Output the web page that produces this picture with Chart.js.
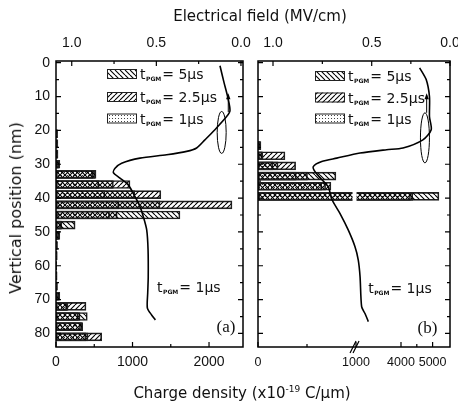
<!DOCTYPE html>
<html>
<head>
<meta charset="utf-8">
<script src="https://cdn.jsdelivr.net/npm/chart.js@4/dist/chart.umd.min.js"></script>
<style>
  html, body { margin: 0; padding: 0; background: #fff; overflow: hidden; }
  #figure { position: relative; width: 458px; height: 406px; font-family: 'DejaVu Sans', sans-serif; color: #111; }
  #figure canvas { position: absolute; left: 0; top: 0; }
  .axis-title { position: absolute; white-space: nowrap; font-size: 15px; line-height: 1; transform: translate(-50%, -50%); }
  .axis-title sup { font-size: 9px; vertical-align: 6px; line-height: 0; }
</style>
</head>
<body>
<div id="figure">
  <canvas id="panelA" width="458" height="406"></canvas>
  <canvas id="panelB" width="458" height="406"></canvas>
  <div class="axis-title" style="left:260px; top:16px;">Electrical field (MV/cm)</div>
  <div class="axis-title" style="left:242px; top:393px;">Charge density (x10<sup>-19</sup> C/μm)</div>
  <div class="axis-title" style="left:16px; top:208px; font-size:16px; transform: translate(-50%, -50%) rotate(-90deg);">Vertical position (nm)</div>
</div>

<script>
// ---- data ----
const pulseLabels = ['5μs', '2.5μs', '1μs'];

// panel (a): histogram bins (nm) and charge density per t_PGM
const binsA = [21, 24, 27, 30, 33, 36, 39, 42, 45, 48, 51, 54, 57, 60, 63, 66, 69, 72, 75, 78, 81];
const charge5usA = [20, 25, 25, 50, 523, 750, 1030, 1360, 1620, 250, 50, 20, 15, 10, 15, 20, 50, 157, 409, 349, 418];
const charge25usA = [20, 20, 25, 40, 505, 967, 1370, 2300, 800, 75, 40, 15, 15, 10, 10, 15, 40, 392, 314, 340, 597];
const charge1usA = [15, 20, 20, 30, 480, 560, 640, 820, 700, 60, 30, 15, 10, 10, 10, 10, 30, 140, 290, 320, 390];

// panel (b)
const binsB = [24.5, 27.5, 30.5, 33.5, 36.5, 39.5];
const charge5usB = [30, 50, 205, 795, 690, 5200];
const charge25usB = [25, 275, 384, 505, 744, 4370];
const charge1usB = [20, 40, 150, 390, 650, 4300];

// electrical field profile, t_PGM = 1us
const fieldDepthA = [0.9, 5.9, 10.4, 14.2, 16.0, 19.8, 22.8, 25.2, 26.2, 27.2, 28.2, 29.7, 31.2, 32.5, 34.1, 36.1, 39.6, 42.5, 45.5, 49.4, 55.3, 63.3, 68.0, 72.5, 74.6, 76.0];
const fieldA = [0.124, 0.100, 0.077, 0.065, 0.086, 0.154, 0.213, 0.262, 0.321, 0.439, 0.597, 0.705, 0.744, 0.754, 0.715, 0.666, 0.626, 0.597, 0.577, 0.557, 0.549, 0.548, 0.551, 0.553, 0.527, 0.506];
const fieldDepthB = [1.5, 5.0, 10.1, 16.0, 19.8, 22.8, 25.2, 25.7, 26.7, 28.2, 29.2, 30.7, 32.2, 34.6, 36.7, 40.5, 44.5, 49.4, 54.3, 58.3, 63.2, 72.1, 74.1, 76.5];
const fieldB = [0.194, 0.152, 0.131, 0.131, 0.120, 0.173, 0.300, 0.405, 0.559, 0.677, 0.753, 0.796, 0.787, 0.752, 0.720, 0.701, 0.661, 0.619, 0.585, 0.568, 0.559, 0.551, 0.534, 0.517];

// ticks
const depthTicks = [0, 10, 20, 30, 40, 50, 60, 70, 80];
const depthMinor = [5, 15, 25, 35, 45, 55, 65, 75];
const chargeTicksA = [0, 1000, 2000];
const chargeMinorA = [500, 1500];
const chargeTicksB = [0, 1000, 4000, 5000];
const chargeMinorB = [500, 4500];
const fieldTicks = [1.0, 0.5, 0.0];
const fieldMinor = [0.75, 0.25];

// axis calibration: value -> fraction of the axis length (panel b is broken / uneven)
const AXIS_KNOTS = {
  chargeA: { values: [0, 2444], fractions: [0, 1] },
  fieldA: { values: [1.093, -0.012], fractions: [0, 1] },
  chargeB: { values: [0, 1000, 2640, 5550], fractions: [0, 98 / 192, 100 / 192, 1] },
  fieldB: { values: [1.076, 1.0, 0.5, 0.0], fractions: [0, 15 / 192, 113.7 / 192, 1] }
};

function interp(xs, ys, x) {
  const last = xs.length - 2;
  for (let i = 0; i <= last; i++) {
    const a = xs[i], b = xs[i + 1];
    if (a === b) continue;
    const t = (x - a) / (b - a);
    if ((t >= 0 && t <= 1) || (i === 0 && t < 0) || (i === last && t > 1)) {
      return ys[i] + t * (ys[i + 1] - ys[i]);
    }
  }
  return ys[ys.length - 1];
}

class KnotScale extends Chart.LinearScale {
  static id = 'knots';
  getPixelForValue(value) {
    if (value === null || value === undefined || isNaN(value)) return NaN;
    const k = AXIS_KNOTS[this.options.knotSet];
    return this.getPixelForDecimal(interp(k.values, k.fractions, value));
  }
  getValueForPixel(pixel) {
    const k = AXIS_KNOTS[this.options.knotSet];
    return interp(k.fractions, k.values, this.getDecimalForPixel(pixel));
  }
}
Chart.register(KnotScale);

Chart.defaults.font.family = "'Liberation Sans', Arial, sans-serif";
Chart.defaults.color = '#111';

function makePattern(ctx, kind) {
  const s = kind === 'dots' ? 3 : 5;
  const tile = document.createElement('canvas');
  tile.width = s;
  tile.height = s;
  const t = tile.getContext('2d');
  if (kind === 'dots') {
    t.fillStyle = '#444';
    t.fillRect(1, 1, 1, 1);
  } else {
    t.strokeStyle = '#000';
    t.lineWidth = 1.1;
    t.beginPath();
    for (let k = -s; k <= s; k += s) {
      if (kind === 'back') { t.moveTo(k, 0); t.lineTo(k + s, s); }
      else { t.moveTo(k, s); t.lineTo(k + s, 0); }
    }
    t.stroke();
  }
  return ctx.createPattern(tile, 'repeat');
}

function drawPulseLabel(ctx, x, base, value) {
  ctx.textAlign = 'left';
  ctx.textBaseline = 'alphabetic';
  ctx.font = "14px 'DejaVu Sans'";
  ctx.fillText('t', x, base);
  x += ctx.measureText('t').width + 0.5;
  ctx.font = "bold 6px 'DejaVu Sans'";
  ctx.fillText('PGM', x, base + 2);
  x += ctx.measureText('PGM').width + 1;
  ctx.font = "14px 'DejaVu Sans'";
  ctx.fillText('= ' + value, x, base);
}

function decorPlugin(p, patterns) {
  return {
    id: 'decor',
    beforeDatasetDraw(chart, args) {
      // white gap in the bars at the axis break
      if (args.meta.type !== 'line' || p.breakAt === undefined) return;
      const { ctx, scales } = chart;
      const bx = scales.xCharge.getPixelForValue(p.breakAt);
      ctx.save();
      ctx.fillStyle = '#fff';
      p.bins.forEach((b, i) => {
        if (Math.max(p.charges[0][i], p.charges[1][i], p.charges[2][i]) <= p.breakAt) return;
        const py = scales.y.getPixelForValue(b);
        ctx.fillRect(bx - 2, py - 5, 4, 10);
      });
      ctx.restore();
    },
    afterDraw(chart) {
      const { ctx, chartArea: a, scales } = chart;
      const y = scales.y, xc = scales.xCharge, xf = scales.xField;
      const mark = (x1, y1, x2, y2) => { ctx.moveTo(x1, y1); ctx.lineTo(x2, y2); };
      ctx.save();
      ctx.strokeStyle = '#000';
      ctx.fillStyle = '#111';

      // frame + inward ticks
      ctx.lineWidth = 1.5;
      ctx.strokeRect(a.left, a.top, a.right - a.left, a.bottom - a.top);
      ctx.lineWidth = 1.2;
      ctx.beginPath();
      [[depthTicks, 5], [depthMinor, 3]].forEach(([vals, len]) => vals.forEach(v => {
        const py = y.getPixelForValue(v);
        mark(a.left, py, a.left + len, py);
        mark(a.right, py, a.right - len, py);
      }));
      [[p.chargeTicks, 5], [p.chargeMinor, 3]].forEach(([vals, len]) => vals.forEach(v => {
        const px = xc.getPixelForValue(v);
        mark(px, a.bottom, px, a.bottom - len);
      }));
      [[fieldTicks, 5], [fieldMinor, 3]].forEach(([vals, len]) => vals.forEach(v => {
        const px = xf.getPixelForValue(v);
        mark(px, a.top, px, a.top + len);
      }));
      ctx.stroke();

      // axis break marks
      if (p.breakAt !== undefined) {
        const bx = xc.getPixelForValue(p.breakAt);
        ctx.beginPath();
        [-1.5, 1.5].forEach(dx => mark(bx + dx - 3, a.bottom + 6, bx + dx + 3, a.bottom - 6));
        ctx.stroke();
      }

      // ring + arrow pointing to the top axis
      const ex = xf.getPixelForValue(p.ring.field);
      const ey = y.getPixelForValue(p.ring.depth);
      const ry = Math.abs(y.getPixelForValue(p.ring.depth + p.ring.half) - ey);
      ctx.lineWidth = 1;
      ctx.beginPath();
      ctx.ellipse(ex, ey, 4.5, ry, 0, 0, Math.PI * 2);
      ctx.stroke();
      const ax = xf.getPixelForValue(p.arrow.field);
      const ay1 = y.getPixelForValue(p.arrow.from), ay2 = y.getPixelForValue(p.arrow.to);
      ctx.beginPath();
      mark(ax, ay1, ax, ay2);
      ctx.stroke();
      ctx.beginPath();
      ctx.moveTo(ax, ay2 - 2);
      ctx.lineTo(ax - 2.2, ay2 + 4);
      ctx.lineTo(ax + 2.2, ay2 + 4);
      ctx.closePath();
      ctx.fillStyle = '#000';
      ctx.fill();

      // legend
      p.legendRows.forEach((dy, k) => {
        const bx = a.left + p.legendX, by = a.top + dy - 5;
        ctx.fillStyle = '#fff';
        ctx.fillRect(bx, by, 30, 10);
        ctx.fillStyle = patterns[k];
        ctx.fillRect(bx, by, 30, 10);
        ctx.lineWidth = 1;
        ctx.strokeStyle = '#222';
        ctx.strokeRect(bx + 0.5, by + 0.5, 29, 9);
        ctx.fillStyle = '#111';
        drawPulseLabel(ctx, bx + 33, by + 10, pulseLabels[k]);
      });

      // curve label and panel letter
      drawPulseLabel(ctx, xf.getPixelForValue(p.curveLabel.field), y.getPixelForValue(p.curveLabel.depth), '1μs');
      ctx.font = "17px 'Liberation Serif'";
      ctx.textAlign = 'center';
      ctx.textBaseline = 'middle';
      ctx.fillText(p.letter, a.right - p.letterAt[0], a.bottom - p.letterAt[1]);
      ctx.restore();
    }
  };
}

// fixed axis box sizes so the plot frame lands where it is in the figure
function fixHeight(h) {
  return axis => { axis.height = h; axis.paddingLeft = 0; axis.paddingRight = 0; };
}

function makePanel(canvasId, p) {
  const canvas = document.getElementById(canvasId);
  const ctx = canvas.getContext('2d');
  const patterns = ['back', 'fwd', 'dots'].map(kind => makePattern(ctx, kind));
  const area = p.area;
  const tickFont = { size: 14 };

  const bars = p.charges.map((vals, k) => ({
    type: 'bar',
    label: pulseLabels[k],
    order: k + 1,
    data: vals,
    xAxisID: 'xCharge',
    yAxisID: 'y',
    indexAxis: 'y',
    grouped: false,
    barThickness: 8,
    backgroundColor: patterns[k],
    borderColor: '#222',
    borderWidth: 1,
    borderSkipped: false
  }));

  return new Chart(ctx, {
    type: 'bar',
    data: {
      labels: p.bins,
      datasets: [{
        type: 'line',
        label: 'E field',
        order: 0,
        indexAxis: 'y',
        xAxisID: 'xField',
        yAxisID: 'y',
        data: p.fieldDepth.map((d, i) => ({ x: p.field[i], y: d })),
        borderColor: '#000',
        borderWidth: 1.6,
        pointRadius: 0,
        tension: 0.25,
        fill: false
      }, ...bars]
    },
    options: {
      indexAxis: 'y',
      responsive: false,
      animation: false,
      devicePixelRatio: 1,
      events: [],
      layout: {
        autoPadding: false,
        padding: { left: 0, top: 0, right: 458 - area.right, bottom: 0 }
      },
      plugins: { legend: { display: false }, tooltip: { enabled: false } },
      scales: {
        y: {
          type: 'linear',
          position: 'left',
          reverse: true,
          offset: false,
          min: -0.5,
          max: 84,
          afterBuildTicks: axis => { axis.ticks = depthTicks.map(v => ({ value: v })); },
          afterFit: axis => { axis.width = area.left; axis.paddingTop = 0; axis.paddingBottom = 0; },
          grid: { display: false, drawTicks: false, offset: false },
          border: { display: false },
          ticks: { display: p.depthLabels, padding: 6, font: tickFont, autoSkip: false }
        },
        xCharge: {
          type: 'knots',
          knotSet: p.chargeAxis,
          position: 'bottom',
          min: 0,
          max: Math.max(...AXIS_KNOTS[p.chargeAxis].values),
          afterBuildTicks: axis => { axis.ticks = p.chargeTicks.map(v => ({ value: v })); },
          afterFit: fixHeight(406 - area.bottom),
          grid: { display: false, drawTicks: false },
          border: { display: false },
          ticks: { padding: p.chargeFont === 14 ? 7 : 8, font: { size: p.chargeFont }, autoSkip: false, maxRotation: 0, callback: v => String(v) }
        },
        xField: {
          type: 'knots',
          knotSet: p.fieldAxis,
          position: 'top',
          min: Math.min(...AXIS_KNOTS[p.fieldAxis].values),
          max: Math.max(...AXIS_KNOTS[p.fieldAxis].values),
          afterBuildTicks: axis => { axis.ticks = fieldTicks.map(v => ({ value: v })); },
          afterFit: fixHeight(area.top),
          grid: { display: false, drawTicks: false },
          border: { display: false },
          ticks: { padding: 9, font: tickFont, autoSkip: false, maxRotation: 0, callback: v => v.toFixed(1) }
        }
      }
    },
    plugins: [decorPlugin(p, patterns)]
  });
}

makePanel('panelA', {
  area: { left: 56, right: 243, top: 61, bottom: 347 },
  bins: binsA,
  charges: [charge5usA, charge25usA, charge1usA],
  fieldDepth: fieldDepthA,
  field: fieldA,
  chargeAxis: 'chargeA',
  fieldAxis: 'fieldA',
  chargeTicks: chargeTicksA,
  chargeMinor: chargeMinorA,
  chargeFont: 14,
  depthLabels: true,
  ring: { field: 0.114, depth: 20.6, half: 6.2 },
  arrow: { field: 0.075, from: 14.6, to: 9.6 },
  legendX: 51,
  legendRows: [13, 36, 57.5],
  curveLabel: { field: 0.496, depth: 67.8 },
  letter: '(a)',
  letterAt: [17, 19]
});

makePanel('panelB', {
  area: { left: 258, right: 450, top: 61, bottom: 347 },
  bins: binsB,
  charges: [charge5usB, charge25usB, charge1usB],
  fieldDepth: fieldDepthB,
  field: fieldB,
  chargeAxis: 'chargeB',
  fieldAxis: 'fieldB',
  chargeTicks: chargeTicksB,
  chargeMinor: chargeMinorB,
  chargeFont: 12.5,
  depthLabels: false,
  breakAt: 985,
  ring: { field: 0.16, depth: 22.2, half: 7.4 },
  arrow: { field: 0.149, from: 14.8, to: 9.6 },
  legendX: 57,
  legendRows: [15, 36.5, 57.5],
  curveLabel: { field: 0.518, depth: 68 },
  letter: '(b)',
  letterAt: [22.5, 18]
});
</script>
</body>
</html>
